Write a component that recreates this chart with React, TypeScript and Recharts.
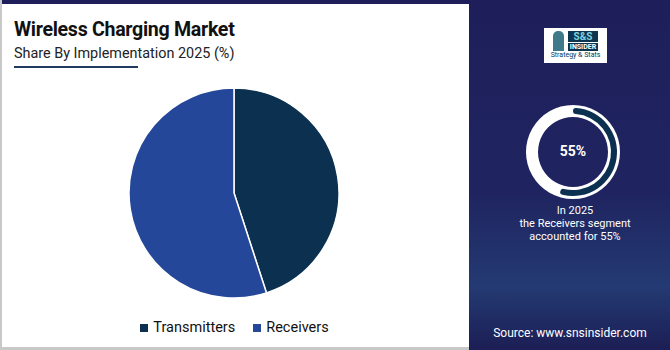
import { Legend, Pie, PieChart, Cell } from 'recharts';

const segments = ['Transmitters', 'Receivers'];
const shares = [45, 55];
const colors = ['#0b3050', '#24479a'];

const highlightShare = 55;

const pieData = segments.map((name, i) => ({ name, value: shares[i] }));
const ringData = [
  { name: 'Receivers', value: highlightShare },
  { name: 'rest', value: 100 - highlightShare },
];

const font = 'Roboto, "Noto Sans", sans-serif';

function LegendRow() {
  return (
    <div style={{ display: 'flex', justifyContent: 'center', gap: 18, fontFamily: font, fontSize: 14.5, color: '#111' }}>
      {segments.map((s, i) => (
        <span key={s} style={{ display: 'flex', alignItems: 'center', gap: 5 }}>
          <span style={{ width: 8, height: 8, background: colors[i], display: 'inline-block' }} />
          {s}
        </span>
      ))}
    </div>
  );
}

export default function App() {
  return (
    <div style={{ position: 'fixed', left: 0, top: 0, width: 670, height: 350, background: '#fff', overflow: 'hidden', fontFamily: font }}>
      {/* left frame */}
      <div style={{ position: 'absolute', left: 0, top: 0, width: 469, height: 4, background: '#1e1f5a' }} />
      <div style={{ position: 'absolute', left: 0, top: 0, width: 2, height: 350, background: '#c8c8c8' }} />
      <div style={{ position: 'absolute', left: 0, top: 347, width: 469, height: 3, background: '#c8c8c8' }} />
      {/* right panel */}
      <div
        style={{
          position: 'absolute',
          left: 469,
          top: 0,
          width: 201,
          height: 350,
          background: 'linear-gradient(180deg, #1e1f5a 0%, #1f2460 55%, #243a72 82%, #1f2a62 92%, #1c1e55 100%)',
        }}
      />
      <div style={{ position: 'absolute', left: 14, top: 18, fontSize: 19.6, fontWeight: 700, color: '#111', letterSpacing: -0.3 }}>
        Wireless Charging Market
      </div>
      <div style={{ position: 'absolute', left: 14, top: 45, fontSize: 14.4, color: '#222' }}>
        Share By Implementation 2025 (%)
      </div>
      <div style={{ position: 'absolute', left: 14, top: 66, width: 124, height: 2, background: '#1e3a5f' }} />

      {/* logo */}
      <div style={{ position: 'absolute', left: 544, top: 28, width: 63, height: 35, background: '#fff', display: 'flex', flexDirection: 'column', alignItems: 'center', justifyContent: 'center' }}>
        <div style={{ display: 'flex', alignItems: 'center', gap: 4 }}>
          <div style={{ width: 11, height: 20, background: '#3f7a8a', borderRadius: '5px 5px 0 0' }} />
          <div style={{ display: 'flex', flexDirection: 'column', alignItems: 'stretch' }}>
            <div style={{ background: '#0e3550', color: '#7fd0dc', fontSize: 10, fontWeight: 700, padding: '0 4px', lineHeight: '11px', textAlign: 'center' }}>S&amp;S</div>
            <div style={{ background: '#0e3550', color: '#fff', fontSize: 7, fontWeight: 700, padding: '0 2px', lineHeight: '8px', marginTop: 1 }}>INSIDER</div>
          </div>
        </div>
        <div style={{ fontSize: 7, color: '#0e3550', lineHeight: '9px' }}>Strategy &amp; Stats</div>
      </div>

      <div style={{ position: 'absolute', left: 0, top: 0 }}>
        <PieChart width={670} height={350} margin={{ top: 0, right: 0, bottom: 0, left: 0 }}>
          <Pie
            data={pieData}
            dataKey="value"
            nameKey="name"
            cx={234}
            cy={193}
            outerRadius={105}
            startAngle={90}
            endAngle={-270}
            stroke="#fff"
            strokeWidth={1.5}
            isAnimationActive={false}
          >
            {pieData.map((d, i) => (
              <Cell key={d.name} fill={colors[i]} />
            ))}
          </Pie>
          <Pie
            data={[{ name: 'ring', value: 1 }]}
            dataKey="value"
            cx={573}
            cy={152}
            innerRadius={35}
            outerRadius={47}
            fill="#fff"
            stroke="none"
            isAnimationActive={false}
            legendType="none"
          />
          <Pie
            data={ringData}
            dataKey="value"
            cx={573}
            cy={152}
            innerRadius={38}
            outerRadius={44}
            startAngle={90}
            endAngle={-270}
            cornerRadius={3}
            stroke="none"
            isAnimationActive={false}
            legendType="none"
          >
            <Cell fill="#0b3050" />
            <Cell fill="transparent" />
          </Pie>
          <Legend
            verticalAlign="bottom"
            content={() => <LegendRow />}
            wrapperStyle={{ left: 0, width: 469, bottom: 14 }}
          />
        </PieChart>
      </div>

      <div style={{ position: 'absolute', left: 548, top: 143, width: 50, textAlign: 'center', color: '#fff', fontSize: 14, fontWeight: 700 }}>
        {highlightShare}%
      </div>
      <div style={{ position: 'absolute', left: 469, top: 204, width: 212, textAlign: 'center', color: '#fff', fontSize: 11, lineHeight: '13px' }}>
        <div>In 2025</div>
        <div>the Receivers segment</div>
        <div>accounted for {highlightShare}%</div>
      </div>
      <div style={{ position: 'absolute', left: 469, top: 326, width: 202, textAlign: 'center', color: '#fff', fontSize: 12 }}>
        Source: www.snsinsider.com
      </div>
    </div>
  );
}
